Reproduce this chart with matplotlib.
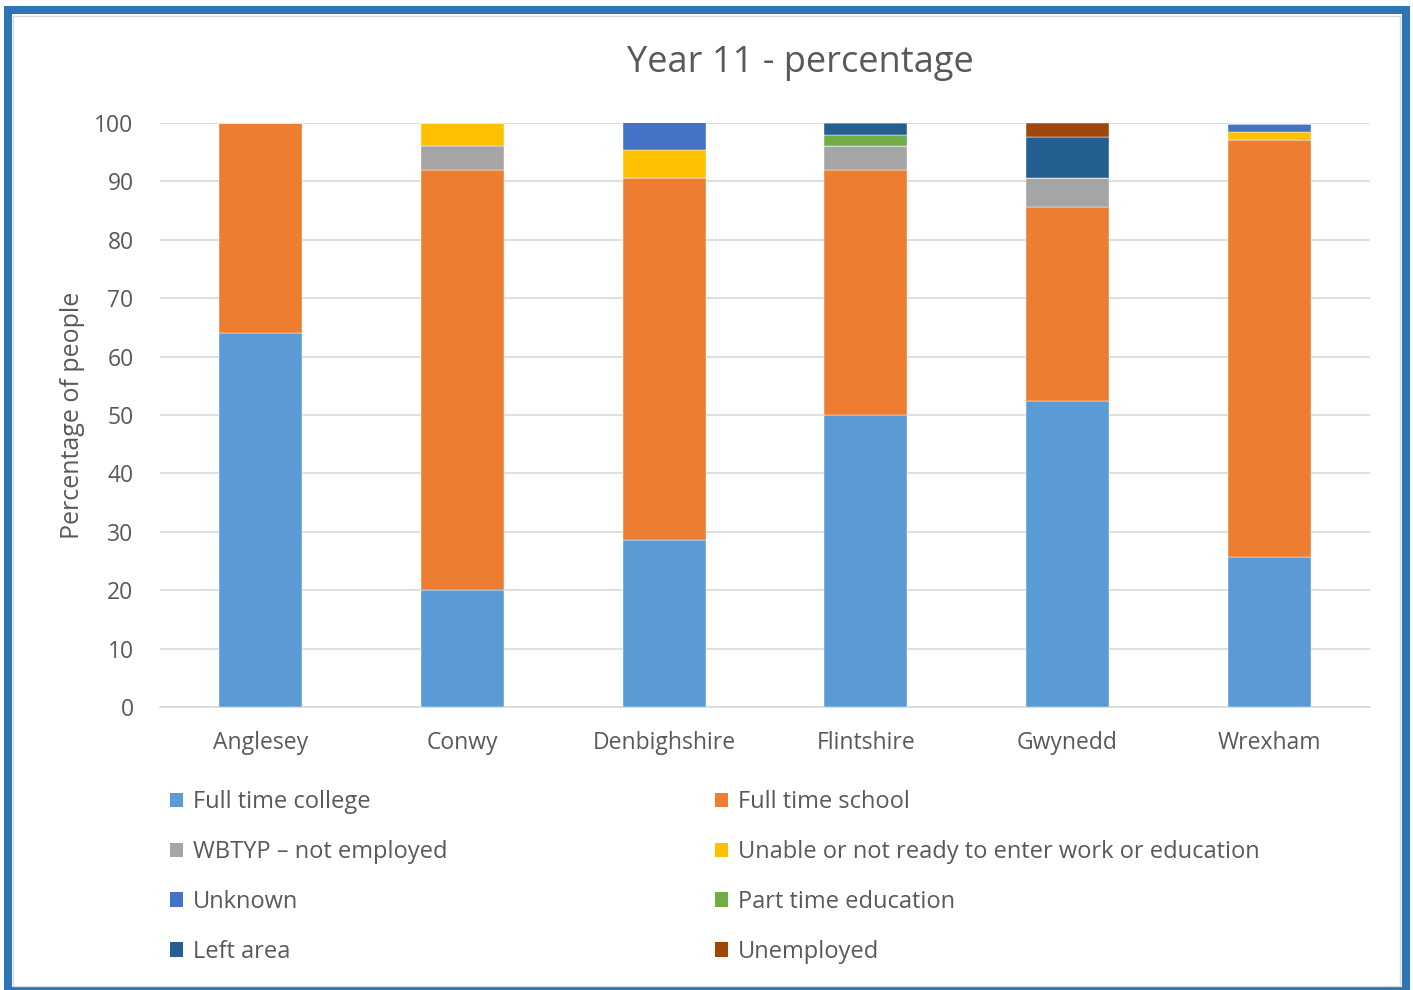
import matplotlib
matplotlib.use("Agg")
import matplotlib.pyplot as plt
from matplotlib.patches import Rectangle, Patch
import numpy as np

plt.rcParams['font.family'] = ['Open Sans', 'DejaVu Sans']

categories = ["Anglesey", "Conwy", "Denbighshire", "Flintshire", "Gwynedd", "Wrexham"]
series_names = ["Full time college", "Full time school", "WBTYP \u2013 not employed",
                "Unable or not ready to enter work or education", "Unknown",
                "Part time education", "Left area", "Unemployed"]
full_time_college = [64.0, 20.0, 28.6, 50.0, 52.4, 25.7]
full_time_school = [36.0, 72.0, 61.9, 42.0, 33.3, 71.4]
wbtyp_not_employed = [0.0, 4.0, 0.0, 4.0, 4.8, 0.0]
unable_not_ready = [0.0, 4.0, 4.8, 0.0, 0.0, 1.4]
unknown = [0.0, 0.0, 4.8, 0.0, 0.0, 1.4]
part_time_education = [0.0, 0.0, 0.0, 2.0, 0.0, 0.0]
left_area = [0.0, 0.0, 0.0, 2.0, 7.1, 0.0]
unemployed = [0.0, 0.0, 0.0, 0.0, 2.4, 0.0]
colors = ["#5B9BD5", "#ED7D31", "#A5A5A5", "#FFC000", "#4472C4", "#70AD47", "#255E91", "#9E480E"]

values = [full_time_college, full_time_school, wbtyp_not_employed, unable_not_ready,
          unknown, part_time_education, left_area, unemployed]

W, H = 1413, 990
fig = plt.figure(figsize=(W / 100, H / 100), dpi=100)
ax = fig.add_axes([160 / W, 1 - 707 / H, 1210 / W, 584 / H])

x = np.arange(len(categories))
bottom = np.zeros(len(categories))
handles = []
for name, vals, c in zip(series_names, values, colors):
    v = np.array(vals)
    ax.bar(x, v, bottom=bottom, width=0.41, color=c, edgecolor='white', linewidth=0.3, zorder=3)
    bottom += v
    handles.append(Patch(facecolor=c, edgecolor='none', label=name))

ax.set_xlim(-0.5, len(categories) - 0.5)
ax.set_ylim(0, 100)
ax.set_yticks(np.arange(0, 101, 10))
ax.grid(axis='y', color='#D9D9D9', linewidth=1.2, zorder=0)
for s in ['top', 'right', 'left']:
    ax.spines[s].set_visible(False)
ax.spines['bottom'].set_color('#D9D9D9')
ax.spines['bottom'].set_linewidth(1.2)
ax.tick_params(axis='both', length=0, labelsize=16.5, colors='#595959')
ax.tick_params(axis='y', pad=19)
ax.tick_params(axis='x', pad=17)
ax.set_xticks(x)
ax.set_xticklabels(categories)
ax.set_ylabel("Percentage of people", fontsize=18, color='#595959', labelpad=7)

fig.text(800 / W, 1 - 63 / H, "Year 11 - percentage", ha='center', va='center',
         fontsize=26, color='#595959')

col1 = [handles[0], handles[2], handles[4], handles[6]]
col2 = [handles[1], handles[3], handles[5], handles[7]]
leg_kw = dict(frameon=False, fontsize=17, labelcolor='#595959', handlelength=0.55,
              handleheight=0.55, handletextpad=0.42, labelspacing=1.10, borderaxespad=0,
              borderpad=0)
l1 = fig.legend(handles=col1, loc='upper left', bbox_to_anchor=(170 / W, 1 - 790 / H), **leg_kw)
l2 = fig.legend(handles=col2, loc='upper left', bbox_to_anchor=(715 / W, 1 - 790 / H), **leg_kw)

# outer frame
fig.patches.append(Rectangle((8 / W, 1 - 991 / H), (1405.5 - 8) / W, (991 - 10.5) / H,
                             transform=fig.transFigure, fill=False, edgecolor='#2E75B6',
                             linewidth=5.8, clip_on=False))
fig.patches.append(Rectangle((13 / W, 1 - 986 / H), (1399.5 - 13) / W, (986 - 15.5) / H,
                             transform=fig.transFigure, fill=False, edgecolor='#D9D9D9',
                             linewidth=1.0, clip_on=False))

fig.savefig("out.png", dpi=100)
